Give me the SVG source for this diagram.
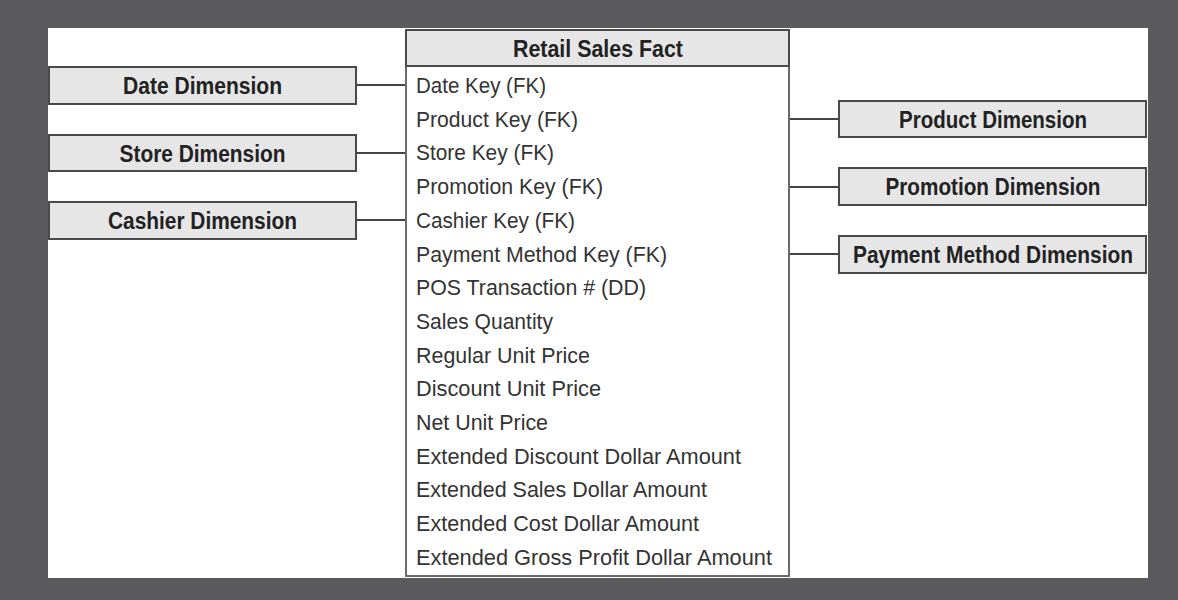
<svg xmlns="http://www.w3.org/2000/svg" width="1178" height="600" viewBox="0 0 1178 600">
<style>
.bg{fill:#5a5a5c}
.panel{fill:#ffffff}
.dim{fill:#e6e6e7;stroke:#4a4a4a;stroke-width:2}
.hdr{fill:#e6e6e7;stroke:#4a4a4a;stroke-width:2}
.tbl{fill:#ffffff;stroke:#6a6a6a;stroke-width:2}
.lbl{font-family:"Liberation Sans",Arial,sans-serif;font-weight:bold;font-size:23px;fill:#222;text-anchor:middle}
.row{font-family:"Liberation Sans",Arial,sans-serif;font-size:22px;fill:#333}
.conn line{stroke:#444;stroke-width:2}
</style>
<rect class="bg" x="0" y="0" width="1178" height="600"/>
<rect class="panel" x="48" y="28" width="1100" height="550"/>

<g id="conns" class="conn">
<line x1="356" y1="85" x2="406" y2="85"/>
<line x1="356" y1="153" x2="406" y2="153"/>
<line x1="356" y1="220" x2="406" y2="220"/>
<line x1="789" y1="119" x2="839" y2="119"/>
<line x1="789" y1="187" x2="839" y2="187"/>
<line x1="789" y1="254" x2="839" y2="254"/>
</g>

<g id="fact">
<rect class="tbl" x="406" y="30" width="383" height="546"/>
<rect class="hdr" x="406" y="30" width="383" height="36"/>
<text class="lbl" x="598" y="57" textLength="170" lengthAdjust="spacingAndGlyphs">Retail Sales Fact</text>
<text class="row" x="416" y="93" textLength="130" lengthAdjust="spacingAndGlyphs">Date Key (FK)</text>
<text class="row" x="416" y="127" textLength="162" lengthAdjust="spacingAndGlyphs">Product Key (FK)</text>
<text class="row" x="416" y="160" textLength="138" lengthAdjust="spacingAndGlyphs">Store Key (FK)</text>
<text class="row" x="416" y="194" textLength="187" lengthAdjust="spacingAndGlyphs">Promotion Key (FK)</text>
<text class="row" x="416" y="228" textLength="159" lengthAdjust="spacingAndGlyphs">Cashier Key (FK)</text>
<text class="row" x="416" y="262" textLength="251" lengthAdjust="spacingAndGlyphs">Payment Method Key (FK)</text>
<text class="row" x="416" y="295" textLength="230" lengthAdjust="spacingAndGlyphs">POS Transaction # (DD)</text>
<text class="row" x="416" y="329" textLength="137" lengthAdjust="spacingAndGlyphs">Sales Quantity</text>
<text class="row" x="416" y="363" textLength="174" lengthAdjust="spacingAndGlyphs">Regular Unit Price</text>
<text class="row" x="416" y="396" textLength="185" lengthAdjust="spacingAndGlyphs">Discount Unit Price</text>
<text class="row" x="416" y="430" textLength="132" lengthAdjust="spacingAndGlyphs">Net Unit Price</text>
<text class="row" x="416" y="464" textLength="325" lengthAdjust="spacingAndGlyphs">Extended Discount Dollar Amount</text>
<text class="row" x="416" y="497" textLength="291" lengthAdjust="spacingAndGlyphs">Extended Sales Dollar Amount</text>
<text class="row" x="416" y="531" textLength="283" lengthAdjust="spacingAndGlyphs">Extended Cost Dollar Amount</text>
<text class="row" x="416" y="565" textLength="356" lengthAdjust="spacingAndGlyphs">Extended Gross Profit Dollar Amount</text>
</g>

<g id="date-dim">
<rect class="dim" x="49" y="67" width="307" height="37"/>
<text class="lbl" x="202.5" y="94" textLength="159" lengthAdjust="spacingAndGlyphs">Date Dimension</text>
</g>
<g id="store-dim">
<rect class="dim" x="49" y="135" width="307" height="36"/>
<text class="lbl" x="202.5" y="162" textLength="166" lengthAdjust="spacingAndGlyphs">Store Dimension</text>
</g>
<g id="cashier-dim">
<rect class="dim" x="49" y="202" width="307" height="37"/>
<text class="lbl" x="202.5" y="229" textLength="189" lengthAdjust="spacingAndGlyphs">Cashier Dimension</text>
</g>
<g id="product-dim">
<rect class="dim" x="839" y="101" width="307" height="36"/>
<text class="lbl" x="993" y="128" textLength="188" lengthAdjust="spacingAndGlyphs">Product Dimension</text>
</g>
<g id="promotion-dim">
<rect class="dim" x="839" y="168" width="307" height="37"/>
<text class="lbl" x="993" y="195" textLength="215" lengthAdjust="spacingAndGlyphs">Promotion Dimension</text>
</g>
<g id="payment-dim">
<rect class="dim" x="839" y="236" width="307" height="37"/>
<text class="lbl" x="993" y="263" textLength="280" lengthAdjust="spacingAndGlyphs">Payment Method Dimension</text>
</g>
</svg>
